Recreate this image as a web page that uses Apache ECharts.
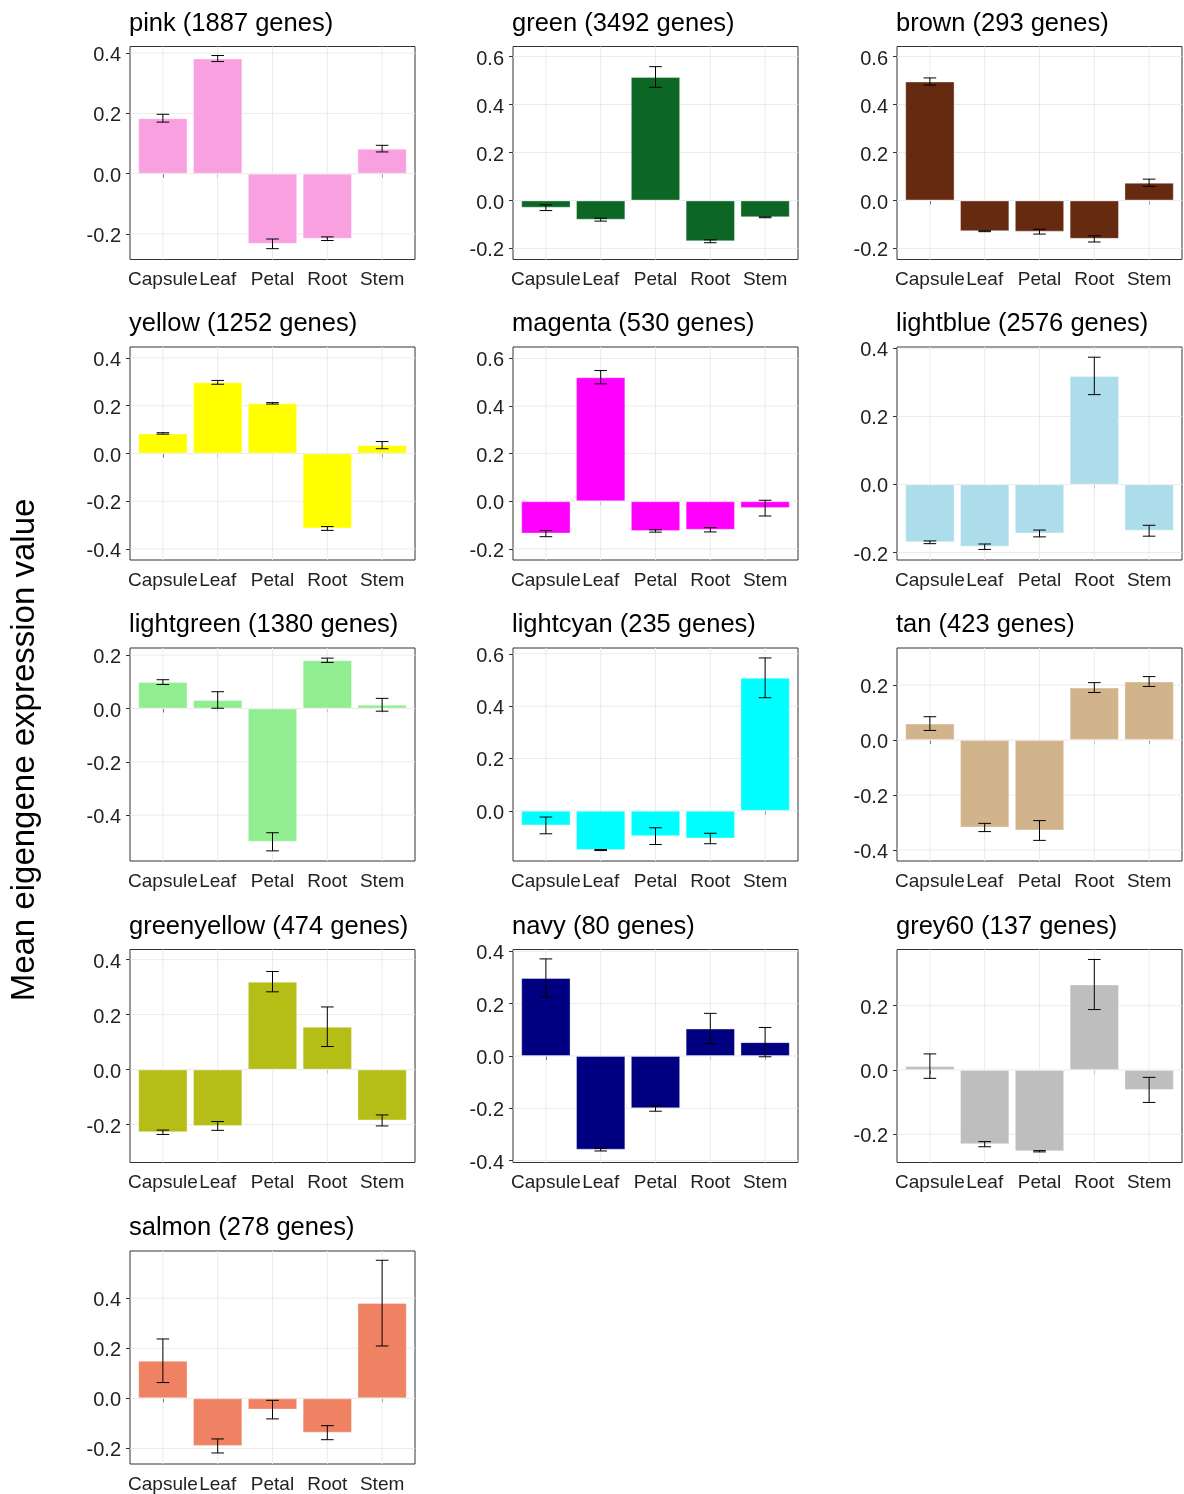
<!DOCTYPE html>
<html>
<head>
<meta charset="utf-8">
<script src="https://cdn.jsdelivr.net/npm/echarts@6/dist/echarts.min.js"></script>
<style>
html,body{margin:0;padding:0;background:#fff;}
#chart{width:1184px;height:1494px;}
</style>
</head>
<body>
<div id="chart"></div>
<script>
// ---------------- data ----------------
const categories = ['Capsule', 'Leaf', 'Petal', 'Root', 'Stem'];
const modules = ['pink', 'green', 'brown', 'yellow', 'magenta', 'lightblue', 'lightgreen', 'lightcyan', 'tan', 'greenyellow', 'navy', 'grey60', 'salmon'];
const geneCounts = [1887, 3492, 293, 1252, 530, 2576, 1380, 235, 423, 474, 80, 137, 278];

const pinkMean = [0.184, 0.382, -0.233, -0.216, 0.083];
const pinkSE   = [0.013, 0.010, 0.016, 0.006, 0.011];
const greenMean = [-0.030, -0.080, 0.515, -0.170, -0.070];
const greenSE   = [0.012, 0.006, 0.043, 0.006, 0.002];
const brownMean = [0.496, -0.128, -0.130, -0.160, 0.074];
const brownSE   = [0.015, 0.002, 0.010, 0.013, 0.015];
const yellowMean = [0.084, 0.298, 0.210, -0.314, 0.035];
const yellowSE   = [0.003, 0.008, 0.003, 0.008, 0.015];
const magentaMean = [-0.136, 0.521, -0.125, -0.120, -0.029];
const magentaSE   = [0.013, 0.028, 0.005, 0.009, 0.033];
const lightblueMean = [-0.170, -0.183, -0.144, 0.319, -0.136];
const lightblueSE   = [0.004, 0.008, 0.010, 0.055, 0.016];
const lightgreenMean = [0.099, 0.032, -0.500, 0.181, 0.014];
const lightgreenSE   = [0.009, 0.031, 0.034, 0.008, 0.024];
const lightcyanMean = [-0.056, -0.150, -0.097, -0.106, 0.508];
const lightcyanSE   = [0.032, 0.002, 0.032, 0.020, 0.076];
const tanMean = [0.060, -0.318, -0.329, 0.191, 0.213];
const tanSE   = [0.025, 0.015, 0.036, 0.018, 0.018];
const greenyellowMean = [-0.228, -0.205, 0.320, 0.156, -0.185];
const greenyellowSE   = [0.008, 0.016, 0.037, 0.072, 0.020];
const navyMean = [0.298, -0.358, -0.200, 0.105, 0.053];
const navySE   = [0.073, 0.005, 0.011, 0.058, 0.056];
const grey60Mean = [0.012, -0.231, -0.253, 0.266, -0.062];
const grey60SE   = [0.038, 0.008, 0.002, 0.078, 0.039];
const salmonMean = [0.150, -0.190, -0.045, -0.137, 0.380];
const salmonSE   = [0.087, 0.028, 0.037, 0.028, 0.171];

// y-axis tick labels per panel
const yTicks = [
  [-0.2, 0.0, 0.2, 0.4],
  [-0.2, 0.0, 0.2, 0.4, 0.6],
  [-0.2, 0.0, 0.2, 0.4, 0.6],
  [-0.4, -0.2, 0.0, 0.2, 0.4],
  [-0.2, 0.0, 0.2, 0.4, 0.6],
  [-0.2, 0.0, 0.2, 0.4],
  [-0.4, -0.2, 0.0, 0.2],
  [0.0, 0.2, 0.4, 0.6],
  [-0.4, -0.2, 0.0, 0.2],
  [-0.2, 0.0, 0.2, 0.4],
  [-0.4, -0.2, 0.0, 0.2, 0.4],
  [-0.2, 0.0, 0.2],
  [-0.2, 0.0, 0.2, 0.4]
];
// y-axis ranges per panel
const yMins = [-0.285, -0.246, -0.246, -0.446, -0.247, -0.222, -0.572, -0.192, -0.440, -0.338, -0.407, -0.288, -0.262];
const yMaxs = [0.422, 0.642, 0.642, 0.446, 0.648, 0.404, 0.227, 0.622, 0.335, 0.437, 0.407, 0.375, 0.588];

const barColors = ['#F9A0E0', '#0C6624', '#662A10', '#FFFF00', '#FF00FF', '#ADDCEA', '#90EE90', '#00FFFF', '#D2B48C', '#B5BE17', '#000080', '#BEBEBE', '#EE8262'];

const means = [pinkMean, greenMean, brownMean, yellowMean, magentaMean, lightblueMean, lightgreenMean, lightcyanMean, tanMean, greenyellowMean, navyMean, grey60Mean, salmonMean];
const ses = [pinkSE, greenSE, brownSE, yellowSE, magentaSE, lightblueSE, lightgreenSE, lightcyanSE, tanSE, greenyellowSE, navySE, grey60SE, salmonSE];

// ---------------- layout ----------------
const colLeft = [130, 513, 897];
const colWidth = 285;
const rowTop = [46.5, 347, 648, 949.5, 1251];
const rowHeight = 213;
const FONT = "'Liberation Sans', Arial, sans-serif";
const catPos = categories.map(function (c, k) { return k + 1; });

const chart = echarts.init(document.getElementById('chart'), null, {renderer: 'canvas'});

const grids = [], xAxes = [], yAxes = [], series = [], titles = [];

modules.forEach(function (m, i) {
  const r = Math.floor(i / 3), c = i % 3;
  grids.push({
    left: colLeft[c], top: rowTop[r], width: colWidth, height: rowHeight,
    show: true, borderColor: '#333333', borderWidth: 1, backgroundColor: '#ffffff',
    containLabel: false
  });
  titles.push({
    text: m + ' (' + geneCounts[i] + ' genes)',
    left: colLeft[c] - 1, top: rowTop[r] - 36, padding: 0,
    textStyle: {fontFamily: FONT, fontSize: 25.5, fontWeight: 'normal', color: '#000000'}
  });
  xAxes.push({
    type: 'value', gridIndex: i, min: 0.4, max: 5.6,
    axisLine: {show: false},
    axisTick: {show: true, length: 4, lineStyle: {color: '#333333'}, customValues: catPos},
    axisLabel: {
      margin: 11, color: '#222222', fontFamily: FONT, fontSize: 19,
      customValues: catPos,
      formatter: function (v) { return categories[Math.round(v) - 1]; }
    },
    splitLine: {show: false}
  });
  yAxes.push({
    type: 'value', gridIndex: i, min: yMins[i], max: yMaxs[i],
    axisLine: {show: false},
    axisTick: {show: true, length: 4, lineStyle: {color: '#333333'}, customValues: yTicks[i]},
    axisLabel: {
      color: '#222222', fontFamily: FONT, fontSize: 20, margin: 9,
      customValues: yTicks[i],
      formatter: function (v) { return '{t|' + Number(v).toFixed(1) + '}'; },
      rich: {t: {fontFamily: FONT, fontSize: 20, color: '#222222', padding: [5, 0, 0, 0]}}
    },
    splitLine: {show: false}
  });
  // vertical grid lines at categories
  series.push({
    type: 'custom', xAxisIndex: i, yAxisIndex: i, z: 1, silent: true,
    data: catPos.map(function (p) { return [p, 0]; }),
    renderItem: function (params, api) {
      const cs = params.coordSys;
      const x = api.coord([api.value(0), 0])[0];
      return {type: 'line', shape: {x1: x, y1: cs.y, x2: x, y2: cs.y + cs.height},
        style: {stroke: '#EBEBEB', lineWidth: 1}};
    }
  });
  // horizontal grid lines at ticks
  series.push({
    type: 'custom', xAxisIndex: i, yAxisIndex: i, z: 1, silent: true,
    data: yTicks[i].map(function (t) { return [1, t]; }),
    renderItem: function (params, api) {
      const cs = params.coordSys;
      const y = api.coord([1, api.value(1)])[1];
      return {type: 'line', shape: {x1: cs.x, y1: y, x2: cs.x + cs.width, y2: y},
        style: {stroke: '#EBEBEB', lineWidth: 1}};
    }
  });
  // bars
  series.push({
    type: 'bar', xAxisIndex: i, yAxisIndex: i, z: 2,
    data: means[i].map(function (v, k) { return [catPos[k], v]; }),
    barWidth: '90%',
    itemStyle: {color: barColors[i], borderColor: 'rgba(255,255,255,0.35)', borderWidth: 1}
  });
  // error bars
  series.push({
    type: 'custom', xAxisIndex: i, yAxisIndex: i, z: 3, silent: true,
    data: means[i].map(function (v, k) { return [catPos[k], v - ses[i][k], v + ses[i][k]]; }),
    encode: {x: 0, y: [1, 2]},
    renderItem: function (params, api) {
      const p = api.value(0);
      const lo = api.coord([p, api.value(1)]);
      const hi = api.coord([p, api.value(2)]);
      const half = api.size([1, 0])[0] * 0.115;
      const st = {stroke: '#000000', lineWidth: 1};
      return {type: 'group', children: [
        {type: 'line', shape: {x1: lo[0], y1: lo[1], x2: hi[0], y2: hi[1]}, style: st},
        {type: 'line', shape: {x1: lo[0] - half, y1: lo[1], x2: lo[0] + half, y2: lo[1]}, style: st},
        {type: 'line', shape: {x1: hi[0] - half, y1: hi[1], x2: hi[0] + half, y2: hi[1]}, style: st}
      ]};
    }
  });
});

const option = {
  animation: false,
  backgroundColor: '#ffffff',
  title: titles,
  grid: grids,
  xAxis: xAxes,
  yAxis: yAxes,
  series: series,
  graphic: [{
    type: 'text', x: 25, y: 750, rotation: Math.PI / 2,
    style: {text: 'Mean eigengene expression value', fontFamily: FONT, fontSize: 33,
      fill: '#000000', textAlign: 'center', textVerticalAlign: 'middle'}
  }]
};
chart.setOption(option);
</script>
</body>
</html>
